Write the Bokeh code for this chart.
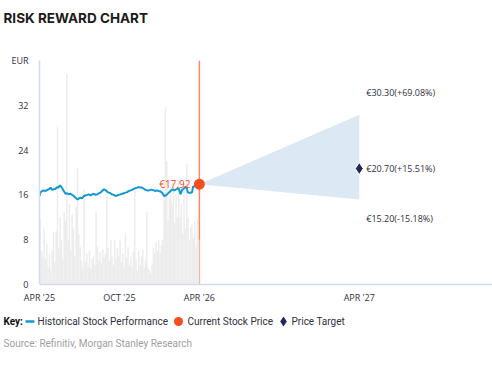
from bokeh.plotting import figure
from bokeh.models import Label, Span, FixedTicker, Range1d
from bokeh.layouts import column
from bokeh.embed import file_html
from bokeh.resources import INLINE
from bokeh.core.properties import value

title_text = "RISK REWARD CHART"
x_tick_months = [0, 6, 12, 24]
x_tick_labels = ["APR '25", "OCT '25", "APR '26", "APR '27"]
y_ticks = [0, 8, 16, 24, 32, 40]
y_tick_labels = ["0", "8", "16", "24", "32", "EUR"]

price_months = [0.00, 0.05, 0.13, 0.22, 0.33, 0.45, 0.58, 0.70, 0.83, 0.95,
                1.08, 1.20, 1.33, 1.42, 1.53, 1.62, 1.70, 1.80, 1.95, 2.08,
                2.20, 2.33, 2.45, 2.58, 2.70, 2.80, 2.88, 2.98, 3.08, 3.20,
                3.33, 3.45, 3.58, 3.70, 3.83, 3.95, 4.08, 4.20, 4.33, 4.45,
                4.58, 4.70, 4.83, 4.93, 5.03, 5.12, 5.20, 5.33, 5.45, 5.58,
                5.70, 5.82, 5.95, 6.08, 6.20, 6.33, 6.45, 6.58, 6.70, 6.83,
                6.95, 7.08, 7.20, 7.33, 7.45, 7.58, 7.70, 7.83, 7.95, 8.08,
                8.20, 8.33, 8.45, 8.58, 8.70, 8.83, 8.95, 9.08, 9.20, 9.30,
                9.38, 9.48, 9.58, 9.70, 9.83, 9.93, 10.03, 10.12, 10.20, 10.33,
                10.45, 10.52, 10.58, 10.65, 10.70, 10.82, 10.95, 11.05, 11.12, 11.20,
                11.30, 11.38, 11.45, 11.53, 11.62, 11.70, 11.82, 11.95]
price_values = [15.8, 16.3, 16.6, 16.7, 16.8, 16.7, 16.9, 17.0, 17.3, 16.9,
                17.0, 17.1, 17.4, 17.3, 17.7, 17.5, 17.2, 16.8, 16.2, 16.3,
                16.1, 16.2, 16.0, 15.8, 15.5, 15.3, 15.2, 15.4, 15.5, 15.4,
                15.8, 15.9, 16.0, 16.1, 15.9, 16.1, 16.2, 16.0, 16.1, 16.3,
                16.4, 16.7, 17.0, 16.9, 16.7, 16.5, 16.4, 16.3, 16.1, 16.0,
                15.8, 15.9, 16.0, 16.1, 16.2, 16.3, 16.4, 16.5, 16.7, 16.8,
                16.9, 17.1, 17.2, 17.3, 17.4, 17.3, 17.3, 17.1, 16.9, 16.8,
                16.8, 16.9, 16.9, 16.8, 16.7, 16.8, 16.7, 16.6, 16.4, 16.0,
                15.8, 15.9, 16.1, 16.4, 16.7, 16.9, 17.0, 16.8, 16.9, 17.1,
                17.2, 16.6, 16.1, 16.5, 16.9, 17.1, 17.4, 17.3, 16.5, 16.4,
                16.4, 16.4, 16.5, 17.5, 17.5, 17.6, 17.7, 17.92]

# volume-like bars, one per 0.1 month
volume_values = [11.7, 6.0, 5.0, 10.0, 4.5, 7.3, 3.0, 5.5, 2.5, 6.0,
                 9.3, 4.0, 9.6, 28.1, 6.5, 12.0, 7.9, 4.5, 12.9, 11.4,
                 37.5, 8.0, 14.4, 6.0, 12.6, 10.2, 5.0, 13.8, 20.8, 9.0,
                 6.7, 4.3, 3.0, 17.1, 4.0, 5.5, 3.2, 6.0, 2.8, 4.5,
                 5.0, 3.5, 13.0, 6.7, 4.3, 5.8, 3.8, 6.2, 4.8, 5.5,
                 15.9, 6.5, 4.2, 7.9, 5.0, 3.5, 7.9, 4.6, 6.5, 5.2,
                 7.9, 4.0, 5.5, 3.0, 9.2, 4.8, 6.7, 3.5, 5.0, 3.0,
                 5.8, 16.8, 4.5, 2.5, 6.0, 3.5, 5.0, 6.2, 3.0, 4.5,
                 12.9, 3.0, 2.5, 2.0, 3.5, 6.5, 5.5, 7.5, 6.0, 7.9,
                 5.5, 7.0, 8.0, 18.6, 31.7, 22.0, 11.4, 15.6, 17.4, 14.4,
                 17.4, 11.0, 16.2, 12.0, 18.6, 12.0, 14.4, 9.0, 18.0, 10.0,
                 21.5, 12.0, 7.9, 10.2, 10.7, 8.3, 11.4, 6.7, 11.8, 8.0]
volume_step = 0.1

current_month = 12
current_price = 17.92
target_month = 24
target_high = 30.30
target_mid = 20.70
target_low = 15.20

key_title = "Key:"
key_items = ["Historical Stock Performance", "Current Stock Price", "Price Target"]
source_text = "Source: Refinitiv, Morgan Stanley Research"

BLUE = "#1398d5"
ORANGE = "#f54d1e"
SPAN_ORANGE = "#f98a68"
NAVY = "#23265a"
TEXT = "#2f3040"
AXIS = "#d3d9ef"
FONT = "Open Sans"
W = 492


def bare_figure(h):
    fig = figure(width=W, height=h, x_range=Range1d(0, W), y_range=Range1d(h, 0),
                 output_backend="svg", toolbar_location=None,
                 x_axis_location=None, y_axis_location=None, frame_align=False,
                 min_border=0, min_border_left=0, min_border_right=0,
                 min_border_top=0, min_border_bottom=0)
    fig.xgrid.grid_line_color = None
    fig.ygrid.grid_line_color = None
    fig.outline_line_color = None
    fig.background_fill_color = "white"
    fig.border_fill_color = "white"
    return fig


# ---------- header ----------
HH = 40
head = bare_figure(HH)
head.text(x=[3], y=[17], text=[title_text], text_font=value("Inter"), text_font_style="bold",
          text_font_size="13.5px", text_color="#1b1b1b", text_baseline="middle", text_align="left")

# ---------- main chart ----------
MH = 270
p = figure(width=W, height=MH, x_range=Range1d(0, 34), y_range=Range1d(0, 40),
           output_backend="svg", toolbar_location=None, frame_align=False,
           min_border_left=39, min_border_right=0, min_border_top=20, min_border_bottom=26)
p.outline_line_color = None
p.xgrid.grid_line_color = None
p.ygrid.grid_line_color = None
p.background_fill_color = "white"
p.border_fill_color = "white"

for ax in (p.xaxis[0], p.yaxis[0]):
    ax.axis_line_color = AXIS
    ax.axis_line_width = 1.5
    ax.major_tick_line_color = None
    ax.minor_tick_line_color = None
    ax.major_tick_out = 0
    ax.major_tick_in = 0
    ax.major_label_text_font = FONT
    ax.major_label_text_font_size = "9px"
    ax.major_label_text_color = TEXT

p.xaxis.ticker = FixedTicker(ticks=x_tick_months)
p.xaxis.major_label_overrides = dict(zip(x_tick_months, x_tick_labels))
p.xaxis.major_label_standoff = 6
p.yaxis.ticker = FixedTicker(ticks=y_ticks)
p.yaxis.major_label_overrides = dict(zip(y_ticks, y_tick_labels))
p.yaxis.major_label_standoff = 11

vol_x = [volume_step * i + volume_step / 2 for i in range(len(volume_values))]
p.vbar(x=vol_x, top=volume_values, width=volume_step * 1.1, fill_color="#ececec", line_color=None)

p.add_layout(Span(location=current_month, dimension="height", line_color=SPAN_ORANGE,
                  line_width=1.5, level="underlay"))

p.line(price_months + [current_month], price_values + [current_price], line_color=BLUE, line_width=2)

p.patch([current_month, target_month, target_month], [current_price, target_high, target_low],
        fill_color="#dce8f3", line_color=None)

p.scatter([current_month], [current_price], size=11, marker="circle", fill_color=ORANGE, line_color=None)
p.scatter([target_month], [target_mid], size=12, marker="diamond", fill_color=NAVY,
          line_color="white", line_width=1)

p.add_layout(Label(x=current_month, y=current_price, x_offset=-9, text=f"€{current_price:.2f}",
                   text_align="right", text_baseline="middle", text_color=ORANGE,
                   text_font=FONT, text_font_size="10px"))


def tlabel(v):
    pct = (v / current_price - 1) * 100
    return f"€{v:.2f}({pct:+.2f}%)"


for v, off in ((target_high, 22), (target_mid, 0), (target_low, -19)):
    p.add_layout(Label(x=target_month, y=v, x_offset=7, y_offset=off, text=tlabel(v),
                       text_align="left", text_baseline="middle", text_color=TEXT,
                       text_font=FONT, text_font_size="9px"))

# ---------- key + source ----------
KH = 373 - HH - MH
key = bare_figure(KH)
ky = 11
key.text(x=[3], y=[ky], text=[key_title], text_font=value("Roboto"), text_font_style="bold",
         text_font_size="10px", text_color="#111111", text_baseline="middle")
key.segment(x0=[25], y0=[ky], x1=[34], y1=[ky], line_color=BLUE, line_width=2.5)
key.scatter(x=[178], y=[ky], size=9, marker="circle", fill_color=ORANGE, line_color=None)
key.scatter(x=[283], y=[ky], size=10, marker="diamond", fill_color=NAVY, line_color=None)
key.text(x=[37, 187, 291], y=[ky, ky, ky], text=key_items, text_font=value("Roboto"),
         text_font_size="10px", text_color=TEXT, text_baseline="middle")
key.text(x=[3], y=[33], text=[source_text], text_font=value("Roboto"),
         text_font_size="10px", text_color="#a0a0a0", text_baseline="middle")

layout = column(head, p, key, spacing=0)
open("out.html", "w").write(file_html(layout, INLINE))
